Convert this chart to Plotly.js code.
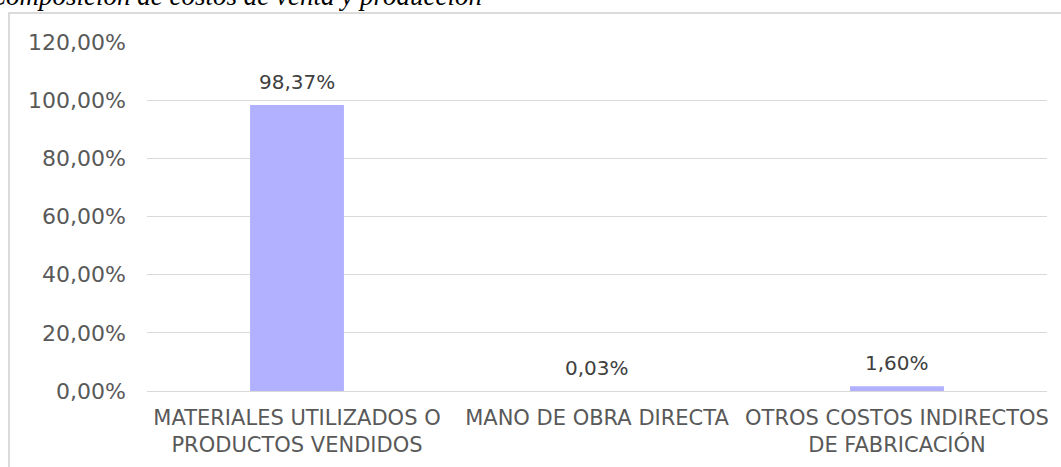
<!DOCTYPE html>
<html>
<head>
<meta charset="utf-8">
<script src="https://cdn.plot.ly/plotly-3.0.1.min.js"></script>
<style>
html,body{margin:0;padding:0;background:#fff;overflow:hidden;}
#chart{width:1061px;height:467px;}
</style>
</head>
<body>
<div id="chart"></div>
<script>
const categories = [
  "MATERIALES UTILIZADOS O<br>PRODUCTOS VENDIDOS",
  "MANO DE OBRA DIRECTA",
  "OTROS COSTOS INDIRECTOS<br>DE FABRICACIÓN"
];
const values = [98.37, 0.03, 1.60];
const yTicks = [0, 20, 40, 60, 80, 100, 120];
const titleText = "Composición de costos de venta y producción";

const fmt = v => v.toFixed(2).replace('.', ',') + '%';
const textColor = '#595959';
const numFont = 'DejaVu Sans, sans-serif';

const trace = {
  type: 'bar',
  x: categories,
  y: values,
  marker: {color: '#b1b1ff'},
  hoverinfo: 'none'
};

const annotations = categories.map((c, i) => ({
  x: c, y: values[i], xref: 'x', yref: 'y',
  text: fmt(values[i]), showarrow: false,
  yanchor: 'bottom', yshift: 9,
  font: {family: numFont, size: 20, color: '#404040'}
}));
annotations.push({
  xref: 'paper', yref: 'paper', x: (-14 - 147) / 900, y: 1.0,
  xanchor: 'left', yanchor: 'bottom', yshift: 29,
  text: '<i>' + titleText + '</i>', showarrow: false,
  font: {family: 'Liberation Serif, serif', size: 27, color: '#000'}
});

const layout = {
  width: 1061, height: 467,
  margin: {l: 147, r: 14, t: 42, b: 76},
  paper_bgcolor: '#fff', plot_bgcolor: '#fff',
  separators: ',.',
  bargap: 0.687,
  showlegend: false,
  xaxis: {
    tickfont: {family: 'DejaVu Sans, sans-serif', size: 21, color: textColor},
    showgrid: false, zeroline: false, showline: false, ticks: '',
    ticklabelstandoff: 12, fixedrange: true
  },
  yaxis: {
    range: [0, 120], tickvals: yTicks, ticktext: yTicks.map(fmt),
    tickfont: {family: numFont, size: 22, color: textColor},
    gridcolor: '#d9d9d9', gridwidth: 1, zeroline: true, zerolinecolor: '#d9d9d9', zerolinewidth: 1,
    showline: false, ticks: '', ticklabelstandoff: 20, fixedrange: true
  },
  annotations: annotations,
  shapes: [{
    type: 'rect', xref: 'paper', yref: 'paper',
    x0: (9 - 147) / 900, x1: (1070 - 147) / 900,
    y0: (391 - 480) / 349, y1: 1 + (42 - 13) / 349,
    line: {color: '#d0d0d0', width: 1.5}, fillcolor: 'rgba(0,0,0,0)', layer: 'below'
  }]
};

Plotly.newPlot('chart', [trace], layout, {displayModeBar: false, staticPlot: true});
</script>
</body>
</html>
